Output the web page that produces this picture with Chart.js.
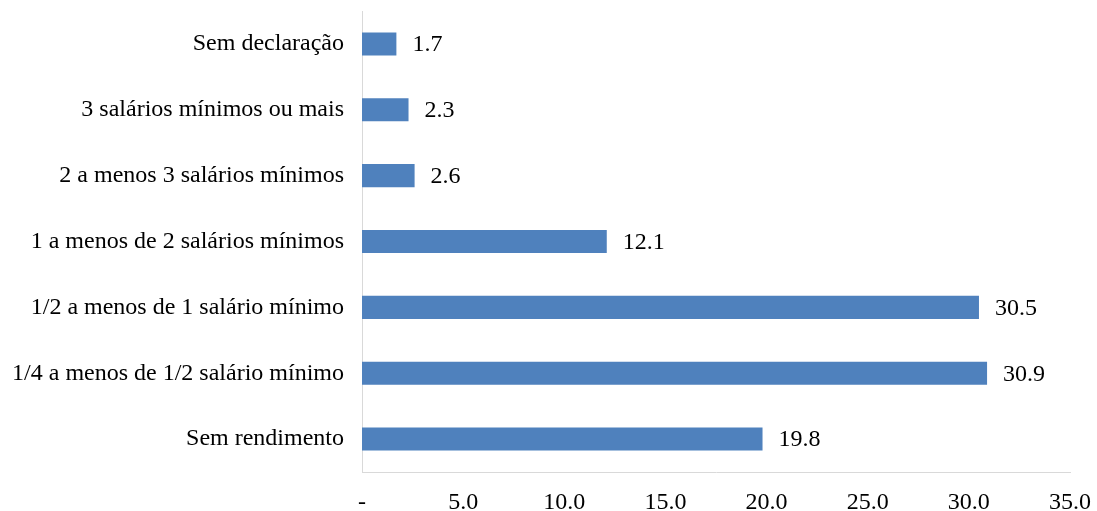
<!DOCTYPE html>
<html>
<head>
<meta charset="utf-8">
<script src="https://cdn.jsdelivr.net/npm/chart.js@4/dist/chart.umd.min.js"></script>
<style>
  html, body { margin: 0; padding: 0; background: #fff; }
  #wrap { width: 1097px; height: 511px; position: relative; }
</style>
</head>
<body>
<div id="wrap"><canvas id="rendaChart"></canvas></div>
<script>
// faixas de rendimento, de cima para baixo
const categories = [
  'Sem declaração',
  '3 salários mínimos ou mais',
  '2 a menos 3 salários mínimos',
  '1 a menos de 2 salários mínimos',
  '1/2 a menos de 1 salário mínimo',
  '1/4 a menos de 1/2 salário mínimo',
  'Sem rendimento'
];
const percentages = [1.7, 2.3, 2.6, 12.1, 30.5, 30.9, 19.8];
const axisMax = 35;
const axisStep = 5;

const FONT = "'Liberation Serif', 'Times New Roman', serif";
const BAR_COLOR = '#4f81bd';
const AXIS_COLOR = '#d9d9d9';

// escreve o valor logo depois do fim de cada barra
const valueLabels = {
  id: 'valueLabels',
  afterDatasetsDraw(chart) {
    const ctx = chart.ctx;
    const meta = chart.getDatasetMeta(0);
    ctx.save();
    ctx.font = '24px ' + FONT;
    ctx.fillStyle = '#000';
    ctx.textAlign = 'left';
    ctx.textBaseline = 'middle';
    meta.data.forEach((bar, i) => {
      ctx.fillText(percentages[i].toFixed(1), bar.x + 16, bar.y + 1);
    });
    ctx.restore();
  }
};

new Chart(document.getElementById('rendaChart'), {
  type: 'bar',
  data: {
    labels: categories,
    datasets: [{
      data: percentages,
      backgroundColor: BAR_COLOR,
      borderWidth: 0,
      barPercentage: 0.35,
      categoryPercentage: 1.0
    }]
  },
  options: {
    indexAxis: 'y',
    responsive: true,
    maintainAspectRatio: false,
    animation: false,
    layout: { padding: { top: 11, right: 27, bottom: 0, left: 0 } },
    plugins: {
      legend: { display: false },
      tooltip: { enabled: false }
    },
    scales: {
      x: {
        min: 0,
        max: axisMax,
        afterFit(scale) {
          scale.height = 39;
          scale.paddingLeft = 0;
          scale.paddingRight = 0;
        },
        grid: { display: false, drawTicks: false },
        border: { display: true, color: AXIS_COLOR, width: 1 },
        ticks: {
          stepSize: axisStep,
          padding: 16,
          color: '#000',
          font: { family: FONT, size: 24 },
          callback: (v) => v === 0 ? '-' : v.toFixed(1)
        }
      },
      y: {
        afterFit(scale) {
          scale.width = 362;
          scale.paddingTop = 0;
          scale.paddingBottom = 0;
        },
        grid: { display: false, drawTicks: false },
        border: { display: true, color: AXIS_COLOR, width: 1 },
        ticks: {
          padding: 18,
          color: '#000',
          font: { family: FONT, size: 24 }
        }
      }
    }
  },
  plugins: [valueLabels]
});
</script>
</body>
</html>
